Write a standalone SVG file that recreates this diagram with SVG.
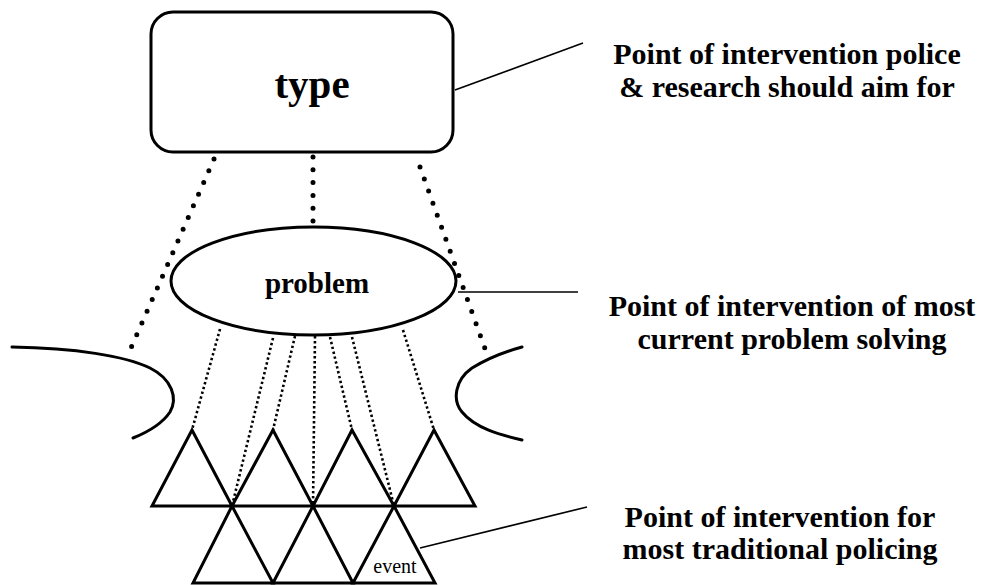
<svg xmlns="http://www.w3.org/2000/svg" width="985" height="585" viewBox="0 0 985 585">
<style>
.shape{fill:none;stroke:#000;stroke-width:3;stroke-linejoin:miter}
.heavy{fill:none;stroke:#000;stroke-width:5;stroke-linecap:round;stroke-dasharray:0 12.8}
.fine{fill:none;stroke:#000;stroke-width:2.6;stroke-dasharray:2.4 2.6}
.leader{fill:none;stroke:#000;stroke-width:1.6}
.arc{fill:none;stroke:#000;stroke-width:3;stroke-linecap:round}
.lbl{font-family:"Liberation Serif","Times New Roman",serif;font-weight:bold;fill:#000;text-anchor:middle}
.side{font-family:"Liberation Serif","Times New Roman",serif;font-weight:bold;font-size:30px;fill:#000;text-anchor:middle}
</style>
<rect width="985" height="585" fill="#fff"/>
<g id="connectors">
  <line class="heavy" x1="214" y1="159" x2="127" y2="357"/>
  <line class="heavy" x1="313" y1="157" x2="313" y2="225"/>
  <line class="heavy" x1="420" y1="167" x2="488" y2="357"/>
  <line class="fine" x1="220" y1="329" x2="192" y2="430"/>
  <line class="fine" x1="273" y1="338" x2="232" y2="506"/>
  <line class="fine" x1="295" y1="336" x2="273" y2="430"/>
  <line class="fine" x1="315" y1="336" x2="313" y2="506"/>
  <line class="fine" x1="330" y1="337" x2="352" y2="430"/>
  <line class="fine" x1="352" y1="337" x2="394" y2="506"/>
  <line class="fine" x1="403" y1="330" x2="434" y2="430"/>
  <line class="leader" x1="455" y1="90" x2="583" y2="43"/>
  <line class="leader" x1="458" y1="292" x2="578" y2="292"/>
  <line class="leader" x1="420" y1="548" x2="587" y2="507"/>
</g>
<g id="type">
  <rect class="shape" x="151" y="12" width="302" height="140" rx="22" ry="22"/>
  <text class="lbl" x="312" y="98" font-size="41">type</text>
</g>
<g id="problem">
  <ellipse class="shape" cx="313.5" cy="281" rx="142.5" ry="54"/>
  <text class="lbl" x="317" y="293" font-size="29">problem</text>
</g>
<g id="left-arc">
  <path class="arc" d="M12,347 C75,348 125,356 150,368 C172,379 178,398 170,412 C162,424 148,432 133,438"/>
</g>
<g id="right-arc">
  <path class="arc" d="M522,347 C500,353 485,360 472,368 C455,380 452,400 462,412 C475,428 500,435 522,440"/>
</g>
<g id="events">
  <polygon class="shape" points="192,430 232,506 152,506"/>
  <polygon class="shape" points="273,430 313,506 232,506"/>
  <polygon class="shape" points="352,430 394,506 313,506"/>
  <polygon class="shape" points="434,430 475,506 394,506"/>
  <polygon class="shape" points="232,506 273,583 193,583"/>
  <polygon class="shape" points="313,506 353,583 273,583"/>
  <polygon class="shape" points="394,506 435,583 353,583"/>
  <text x="395" y="573" font-family="'Liberation Serif','Times New Roman',serif" font-size="20" text-anchor="middle" fill="#000">event</text>
</g>
<g id="label-type">
  <text class="side" x="787" y="64">Point of intervention police</text>
  <text class="side" x="787" y="97">&amp; research should aim for</text>
</g>
<g id="label-problem">
  <text class="side" x="792" y="316">Point of intervention of most</text>
  <text class="side" x="792" y="349">current problem solving</text>
</g>
<g id="label-event">
  <text class="side" x="780" y="527">Point of intervention for</text>
  <text class="side" x="780" y="559">most traditional policing</text>
</g>
</svg>
